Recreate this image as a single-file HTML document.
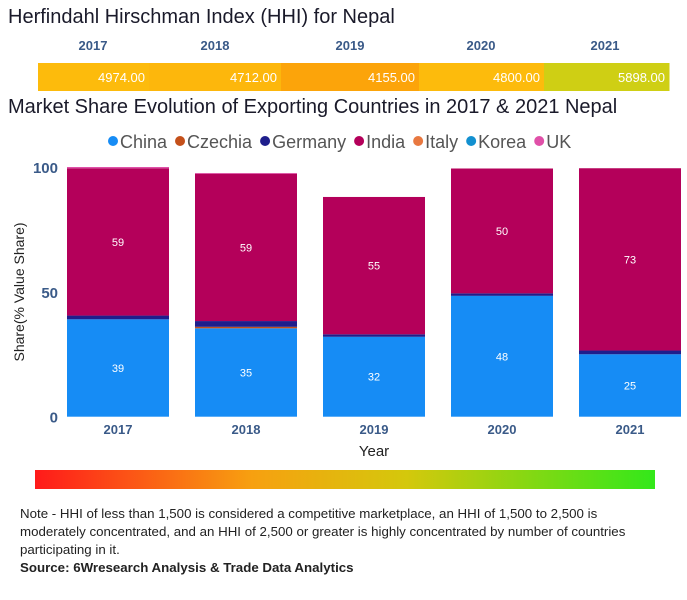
<!DOCTYPE html>
<html><head><meta charset="utf-8"><style>
body{margin:0;width:687px;height:600px;background:#fff;font-family:"Liberation Sans",sans-serif;position:relative;overflow:hidden}
.t{position:absolute;white-space:nowrap}
</style></head><body>
<div class="t" style="left:8px;top:6px;font-size:20px;color:#1a1a2a">Herfindahl Hirschman Index (HHI) for Nepal</div>
<svg width="687" height="600" style="position:absolute;left:0;top:0" id="svg"></svg>
<div class="t" style="left:8px;top:96px;font-size:20px;color:#1a1a2a">Market Share Evolution of Exporting Countries in 2017 &amp; 2021 Nepal</div>
<div class="t" style="left:20px;top:505px;font-size:13.3px;line-height:18px;color:#222;white-space:normal;width:625px">Note - HHI of less than 1,500 is considered a competitive marketplace, an HHI of 1,500 to 2,500 is moderately concentrated, and an HHI of 2,500 or greater is highly concentrated by number of countries participating in it.<br><b>Source: 6Wresearch Analysis &amp; Trade Data Analytics</b></div>
<script>
const years=["2017","2018","2019","2020","2021"];
const hhi=[4974,4712,4155,4800,5898];
const hhiColors=["#fdbb0c","#fdb70c","#fca40a","#fdbb0c","#cfcf14"];
const countries=["China","Czechia","Germany","India","Italy","Korea","UK"];
const colors=["#168cf5","#c4501a","#1e1e8c","#b4005a","#e87840","#1290d0","#e050a8"];
const china=[39,35.4,32,48.4,25];
const czechia=[0,0.6,0,0,0];
const germany=[1.5,2.3,1,1,1.5];
const india=[59,59,55,50,73];
const italy=[0,0,0,0,0];
const korea=[0,0,0,0,0];
const uk=[0.5,0.3,0,0,0];
const series=[china,czechia,germany,india,italy,korea,uk];
const yTicks=[0,50,100];
const NS="http://www.w3.org/2000/svg";
const svg=document.getElementById('svg');
function el(t,a,txt){const e=document.createElementNS(NS,t);for(const k in a)e.setAttribute(k,a[k]);if(txt!=null)e.textContent=txt;svg.appendChild(e);return e;}
// HHI strip
const edges=[38,149,281,419,544,669];
years.forEach((y,i)=>{
 const r=el('rect',{x:edges[i],y:63,width:edges[i+1]-edges[i]+0.5,height:28,fill:hhiColors[i]});
 
 const t=el('text',{x:edges[i+1]-4,y:82,'text-anchor':'end','font-size':13,fill:'#fff'},hhi[i].toFixed(2));
 
 const h=el('text',{x:[93,215,350,481,605][i],y:50,'text-anchor':'middle','font-size':13,'font-weight':'bold',fill:'#3a5a88'},y);
 
});
// legend
let lx=108;
countries.forEach((c,i)=>{
 const d=el('circle',{cx:lx+5,cy:141,r:5,fill:colors[i]});
 
 const t=el('text',{x:lx+12,y:148,'font-size':18,fill:'#555'},c);
 
 lx+=12+t.getComputedTextLength()+8;
});
// axes
const y0=416.7,y100=167;
const ys=v=>y0-(y0-y100)*v/100;
const bx=i=>67+i*128,bw=102;
yTicks.forEach(v=>{
 const t=el('text',{x:58,y:ys(v)+6,'text-anchor':'end','font-size':15,'font-weight':'bold',fill:'#3a5a88'},v);
 
});
const yt=el('text',{x:24,y:292,'text-anchor':'middle','font-size':14,fill:'#222',transform:'rotate(-90 24 292)'},'Share(% Value Share)');

years.forEach((y,i)=>{
 let acc=0;
 series.forEach((s,k)=>{
  const v=s[i];if(v<=0)return;
  const r=el('rect',{x:bx(i),y:ys(acc+v),width:bw,height:ys(acc)-ys(acc+v),fill:colors[k]});
  
  if(v>=10){const t=el('text',{x:bx(i)+bw/2,y:(ys(acc)+ys(acc+v))/2+4,'text-anchor':'middle','font-size':11,fill:'#fff'},Math.round(v));
   }
  acc+=v;
 });
 const t=el('text',{x:bx(i)+bw/2,y:434,'text-anchor':'middle','font-size':13,'font-weight':'bold',fill:'#3a5a88'},y);
 
});
const xt=el('text',{x:374,y:456,'text-anchor':'middle','font-size':15,fill:'#222'},'Year');

// gradient
const defs=el('defs',{});
const g=document.createElementNS(NS,'linearGradient');g.setAttribute('id','gr');defs.appendChild(g);
[["0","#ff1a1a"],["0.35","#f7a010"],["0.6","#d4c80c"],["1","#33e81a"]].forEach(([o,c])=>{const s=document.createElementNS(NS,'stop');s.setAttribute('offset',o);s.setAttribute('stop-color',c);g.appendChild(s);});
const gb=el('rect',{x:35,y:470,width:620,height:19,fill:'url(#gr)'});

</script>
</body></html>
